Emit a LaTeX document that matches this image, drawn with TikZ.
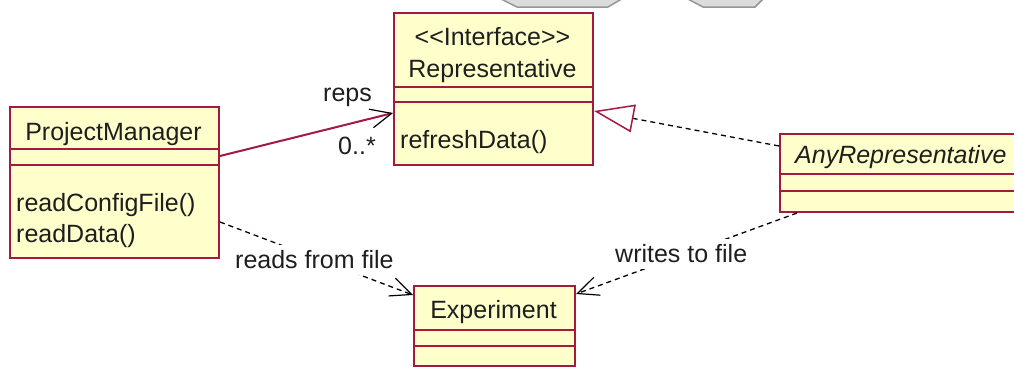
\documentclass[tikz,border=0pt]{standalone}
\usepackage{fontspec}
\setmainfont{Liberation Sans}
\usetikzlibrary{arrows.meta,calc}
\definecolor{umlborder}{RGB}{165,25,65}
\definecolor{umlfill}{RGB}{255,255,204}
\definecolor{umltext}{RGB}{30,30,30}
\definecolor{grayfill}{RGB}{220,220,220}
\definecolor{grayline}{RGB}{150,150,150}
\begin{document}
\begin{tikzpicture}[x=1pt,y=-1pt,
  classbox/.style={draw=umlborder, fill=umlfill, line width=2pt, anchor=north west, inner sep=0pt, rectangle},
  divider/.style={draw=umlborder, line width=2pt},
  umlfont/.style={font=\fontsize{25}{30}\selectfont, text=umltext, inner sep=1pt},
  lbl/.style={umlfont, fill=white, inner sep=1pt, text height=22pt, text depth=6pt},
  barb/.style={-{Straight Barb[length=21pt,width=19pt,line width=1.2pt,black]}},
  dep/.style={draw=black, line width=1.3pt, dash pattern=on 5pt off 4pt, barb},
  assoc/.style={draw=umlborder, line width=2pt, barb},
  real/.style={draw=black, line width=1.3pt, dash pattern=on 5pt off 4pt,
    -{Triangle[open,length=40pt,width=28pt,line width=1.5pt,umlborder]}}
]
\clip (0,0) rectangle (1014,367);
\fill[white] (0,0) rectangle (1014,367);

% cut-off gray shapes at the top
\filldraw[fill=grayfill, draw=grayline, line width=1.5pt] (497,-3) -- (517,7) -- (608,7) -- (625,-3) -- cycle;
\filldraw[fill=grayfill, draw=grayline, line width=1.5pt] (684,-3) -- (703,7) -- (755,7) -- (765,-3) -- cycle;

% classes
\node[classbox, minimum width=209pt, minimum height=151pt] (pm) at (9,106) {};
\node[classbox, minimum width=199pt, minimum height=152pt] (rep) at (393,12) {};
\node[classbox, minimum width=260pt, minimum height=78pt] (anyrep) at (779,133) {};
\node[classbox, minimum width=161pt, minimum height=80pt] (exp) at (413,285) {};

% dividers
\draw[divider] ($(pm.north west)+(0,43)$) -- ($(pm.north east)+(0,43)$);
\draw[divider] ($(pm.north west)+(0,59)$) -- ($(pm.north east)+(0,59)$);
\draw[divider] ($(rep.north west)+(0,75)$) -- ($(rep.north east)+(0,75)$);
\draw[divider] ($(rep.north west)+(0,90)$) -- ($(rep.north east)+(0,90)$);
\draw[divider] ($(anyrep.north west)+(0,41)$) -- ($(anyrep.north east)+(0,41)$);
\draw[divider] ($(anyrep.north west)+(0,58)$) -- ($(anyrep.north east)+(0,58)$);
\draw[divider] ($(exp.north west)+(0,45)$) -- ($(exp.north east)+(0,45)$);
\draw[divider] ($(exp.north west)+(0,61)$) -- ($(exp.north east)+(0,61)$);

% texts in classes
\node[umlfont, anchor=base] (pmname) at (113.5,140) {ProjectManager};
\node[umlfont, anchor=base west] (pmm1) at (15,211) {readConfigFile()};
\node[umlfont, anchor=base west] (pmm2) at (15,242) {readData()};
\node[umlfont, anchor=base] (repst) at (492.5,45) {<{}<Interface>{}>};
\node[umlfont, anchor=base] (repname) at (492.5,77) {Representative};
\node[umlfont, anchor=base west] (repm1) at (399,148) {refreshData()};
\node[umlfont, anchor=base west, font=\fontsize{25}{30}\selectfont\itshape] (anyname) at (794,163) {AnyRepresentative};
\node[umlfont, anchor=base] (expname) at (493.5,318) {Experiment};

% connectors
\draw[assoc] ($(pm.north east)+(0,50)$) -- ($(rep.north west)+(0,101)$);
\draw[real] ($(anyrep.north west)+(0,13)$) -- ($(rep.north east)+(0,99)$);
\draw[dep] ($(pm.north east)+(0,116)$) -- ($(exp.north west)+(0,10)$);
\draw[dep] ($(anyrep.south west)+(18,0)$) -- ($(exp.north east)+(0,9)$);

% labels
\node[umlfont, anchor=base west] (reps) at (322,101) {reps};
\node[umlfont, anchor=base west] (mult) at (337,154) {0..*};
\node[lbl, anchor=base west] (reads) at (234,268) {reads from file};
\node[lbl, anchor=base west] (writes) at (614,262) {writes to file};
\end{tikzpicture}
\end{document}
